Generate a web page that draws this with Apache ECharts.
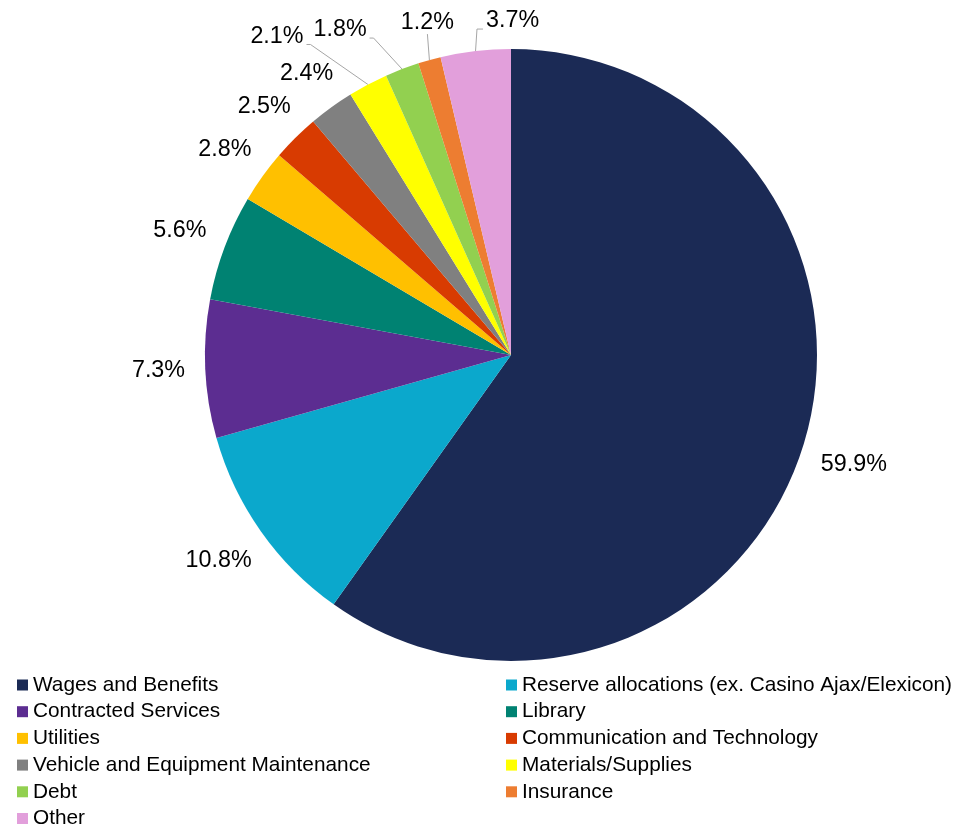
<!DOCTYPE html>
<html>
<head>
<meta charset="utf-8">
<script src="https://cdn.jsdelivr.net/npm/echarts@6/dist/echarts.min.js"></script>
<style>
  html, body { margin: 0; padding: 0; background: #fff; }
  #chart { width: 955px; height: 827px; }
</style>
</head>
<body>
<div id="chart"></div>
<script>
// Expense categories, clockwise from 12 o'clock
const categories = [
  'Wages and Benefits',
  'Reserve allocations (ex. Casino Ajax/Elexicon)',
  'Contracted Services',
  'Library',
  'Utilities',
  'Communication and Technology',
  'Vehicle and Equipment Maintenance',
  'Materials/Supplies',
  'Debt',
  'Insurance',
  'Other'
];

// Share of total expenses, percent
const shares = [59.9, 10.8, 7.3, 5.6, 2.8, 2.5, 2.4, 2.1, 1.8, 1.2, 3.7];

const sliceColors = [
  '#1B2A55', '#0BA8CC', '#5C2D91', '#008272', '#FFC000', '#D83B01',
  '#808080', '#FFFF00', '#92D050', '#ED7D31', '#E29FDB'
];

// Legend columns
const legendLeftColumn = [0, 2, 4, 6, 8, 10].map(i => categories[i]);
const legendRightColumn = [1, 3, 5, 7, 9].map(i => categories[i]);

const FONT = '"Liberation Sans", Arial, sans-serif';
const PIE_CENTER = [511, 355];
const PIE_RADIUS = 306;
const LABEL_GAP = 20;

// Thin slices at the top get their labels pulled out with a leader line
const callouts = {
  7: { dx: -91, dy: -48, side: 'left' },
  8: { dx: -62, dy: -39, side: 'left' },
  9: { dx: -2, dy: -38, side: 'above' },
  10: { dx: 37, dy: -30, side: 'right' }
};

const total = shares.reduce((s, v) => s + v, 0);
function midAngle(i) {
  let before = 0;
  for (let k = 0; k < i; k++) before += shares[k];
  return (before + shares[i] / 2) / total * 2 * Math.PI;
}

const chart = echarts.init(document.getElementById('chart'), null, { renderer: 'canvas' });

const legendCommon = {
  orient: 'vertical',
  top: 674,
  height: 200,
  padding: 0,
  icon: 'rect',
  itemWidth: 11,
  itemHeight: 11,
  itemGap: 4.7,
  selectedMode: false,
  textStyle: { fontFamily: FONT, fontSize: 20.8, color: '#000', lineHeight: 22 }
};

chart.setOption({
  animation: false,
  backgroundColor: '#fff',
  legend: [
    Object.assign({ left: 17, data: legendLeftColumn }, legendCommon),
    Object.assign({ left: 506, data: legendRightColumn }, legendCommon)
  ],
  series: [{
    type: 'pie',
    center: PIE_CENTER,
    radius: PIE_RADIUS,
    startAngle: 90,
    clockwise: true,
    avoidLabelOverlap: false,
    emphasis: { disabled: true },
    itemStyle: { borderWidth: 0 },
    label: {
      show: true,
      position: 'outside',
      formatter: p => p.value + '%',
      fontFamily: FONT,
      fontSize: 23.3,
      color: '#000'
    },
    labelLine: {
      show: false,
      smooth: false,
      lineStyle: { color: '#A6A6A6', width: 1 }
    },
    labelLayout: function (params) {
      const i = params.dataIndex;
      const t = midAngle(i);
      const ux = Math.sin(t), uy = -Math.cos(t);
      const ax = PIE_CENTER[0] + PIE_RADIUS * ux;
      const ay = PIE_CENTER[1] + PIE_RADIUS * uy;
      const w = params.labelRect.width, h = params.labelRect.height;
      const c = callouts[i];
      if (!c) {
        const d = LABEL_GAP + Math.abs(ux) * w / 2 + Math.abs(uy) * h * 0.35;
        return { x: ax + ux * d, y: ay + uy * d, align: 'center', verticalAlign: 'middle' };
      }
      const cx = ax + c.dx, cy = ay + c.dy;
      let pts;
      if (c.side === 'left') {
        const ex = cx + w / 2;
        pts = [[ax, ay], [ex + 7, cy + 8], [ex + 3, cy + 8]];
      } else if (c.side === 'right') {
        const ex = cx - w / 2;
        pts = [[ax, ay], [ex - 9, cy + 8], [ex - 3, cy + 8]];
      } else {
        pts = [[ax, ay], [cx, cy + 12]];
      }
      return { x: cx, y: cy, align: 'center', verticalAlign: 'middle', labelLinePoints: pts };
    },
    data: categories.map((name, i) => ({
      name: name,
      value: shares[i],
      itemStyle: { color: sliceColors[i] },
      labelLine: { show: callouts[i] !== undefined }
    }))
  }]
});
</script>
</body>
</html>
